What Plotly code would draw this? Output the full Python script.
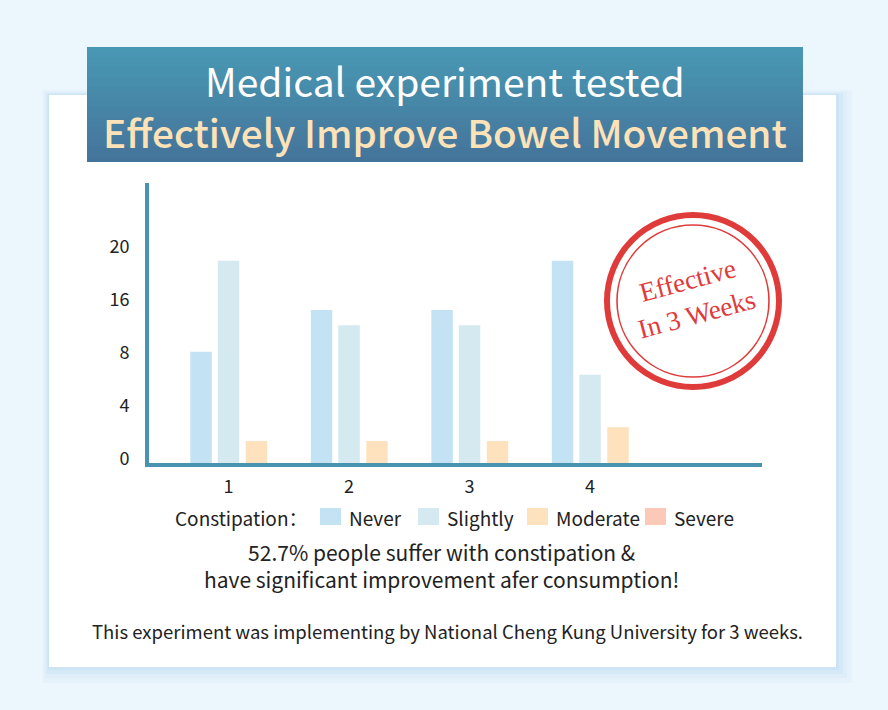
import plotly.graph_objects as go

# ---------------- data ----------------
weeks = [1, 2, 3, 4]
week_labels = ["1", "2", "3", "4"]
never = [8.4, 11.55, 11.55, 15.27]
slightly = [15.27, 10.4, 10.4, 6.66]
moderate = [1.66, 1.66, 1.66, 2.7]
severe = [0, 0, 0, 0]
series_names = ["Never", "Slightly", "Moderate", "Severe"]
series_colors = ["#c3e2f3", "#d4eaf0", "#fee2bd", "#fcc8b8"]
ytick_vals = [0, 4, 8, 12, 16]
ytick_text = ["0", "4", "8", "16", "20"]

W, H = 888, 710
FONT = "Noto Sans CJK SC"
AXIS_COLOR = "#4894b0"
TEXT = "#222222"


def px(x):
    return x / W


def py(y):
    return 1 - y / H


fig = go.Figure()

bar_w = 0.178
offsets = [-0.317, -0.089, 0.143, 0.373]
for name, vals, col, off in zip(series_names, [never, slightly, moderate, severe], series_colors, offsets):
    fig.add_trace(go.Bar(
        x=weeks, y=vals, name=name, marker=dict(color=col, line=dict(width=0)),
        width=bar_w, offset=off, showlegend=False, hoverinfo="x+y+name"))

shapes = []
# card shadow
for grow, op in [(16, 0.08), (11, 0.12), (7, 0.16), (3, 0.22)]:
    shapes.append(dict(type="rect", xref="paper", yref="paper", layer="below",
                       x0=px(49 - grow * 0.4), x1=px(836 + grow), y0=py(95 - grow * 0.3), y1=py(667 + grow),
                       fillcolor="rgba(170,210,235,%.2f)" % op, line=dict(width=0)))
# white card
shapes.append(dict(type="rect", xref="paper", yref="paper", layer="below",
                   x0=px(49), x1=px(836), y0=py(95), y1=py(667),
                   fillcolor="white", line=dict(width=0)))
# header banner with vertical gradient
top_c = (72, 152, 180)
bot_c = (69, 116, 154)
n = 23
y_top, y_bot = 47, 162
for i in range(n):
    t = i / (n - 1)
    c = tuple(round(top_c[k] + (bot_c[k] - top_c[k]) * t) for k in range(3))
    ya = y_top + (y_bot - y_top) * i / n
    yb = y_top + (y_bot - y_top) * (i + 1) / n + 0.6
    shapes.append(dict(type="rect", xref="paper", yref="paper", layer="below",
                       x0=px(87), x1=px(803), y0=py(min(yb, y_bot)), y1=py(ya),
                       fillcolor="rgb(%d,%d,%d)" % c, line=dict(width=0)))
# stamp circles
cx, cy = 693, 301
for r, lw in [(86, 6), (76, 1.6)]:
    shapes.append(dict(type="circle", xref="paper", yref="paper", layer="above",
                       x0=px(cx - r), x1=px(cx + r), y0=py(cy + r), y1=py(cy - r),
                       line=dict(color="#e03b3b", width=lw), fillcolor="rgba(0,0,0,0)"))
# legend swatches
leg_sq_x = [320, 418, 527, 645]
for x0, col in zip(leg_sq_x, series_colors):
    shapes.append(dict(type="rect", xref="paper", yref="paper", layer="above",
                       x0=px(x0), x1=px(x0 + 21), y0=py(525), y1=py(508),
                       fillcolor=col, line=dict(width=0)))


def note(text, x, y, size, color=TEXT, family=FONT, xanchor="center", weight=None, **kw):
    f = dict(family=family, size=size, color=color)
    if weight:
        f["weight"] = weight
    d = dict(text=text, x=px(x), y=py(y), xref="paper", yref="paper", xanchor=xanchor,
             yanchor="middle", showarrow=False, font=f)
    d.update(kw)
    return d


ann = []
ann.append(note("Medical experiment tested", 445, 80, 39, color="white"))
ann.append(note("Effectively Improve Bowel Movement", 445, 131, 38.7, color="#fde2b8", weight=500))
ann.append(note("Effective<br>In 3 Weeks", 692, 297, 27, color="#e03b3b", family="Liberation Serif",
                textangle=-15))
ann.append(note("Constipation：", 173, 517, 19, xanchor="left"))
for x0, name in zip(leg_sq_x, series_names):
    ann.append(note(name, x0 + 27, 517, 19, xanchor="left"))
ann.append(note("52.7% people suffer with constipation &<br>have significant improvement afer consumption!",
                441, 565, 21))
ann.append(note("This experiment was implementing by National Cheng Kung University for 3 weeks.",
                447, 631, 18.5))

fig.update_layout(
    width=W, height=H, autosize=False,
    margin=dict(l=0, r=0, t=0, b=0, pad=0, autoexpand=False),
    paper_bgcolor="#ecf6fd", plot_bgcolor="rgba(0,0,0,0)",
    barmode="group",
    shapes=shapes, annotations=ann,
    showlegend=False,
    xaxis=dict(domain=[px(149), px(762)], range=[0.34, 5.427], tickvals=weeks, ticktext=week_labels,
               showline=True, linecolor=AXIS_COLOR, linewidth=4, showgrid=False, zeroline=False,
               ticks="", ticklabelstandoff=4, automargin=False,
               tickfont=dict(family=FONT, size=18, color=TEXT), fixedrange=True),
    yaxis=dict(domain=[py(463), py(183)], range=[0, 21.13], tickvals=ytick_vals, ticktext=ytick_text,
               showline=True, linecolor=AXIS_COLOR, linewidth=4, showgrid=False, zeroline=False,
               ticks="", ticklabelstandoff=12, ticklabelshift=-4, automargin=False,
               tickfont=dict(family=FONT, size=18, color=TEXT), fixedrange=True),
)

post = ("var gd=document.getElementById('{plot_id}');"
        "document.documentElement.style.margin='0';document.body.style.margin='0';"
        "document.body.style.padding='0';document.documentElement.style.overflow='hidden';"
        "document.body.style.overflow='hidden';"
        "gd.style.position='fixed';gd.style.left='0px';gd.style.top='0px';")
fig.write_html("out.html", config={"displayModeBar": False}, post_script=post)
